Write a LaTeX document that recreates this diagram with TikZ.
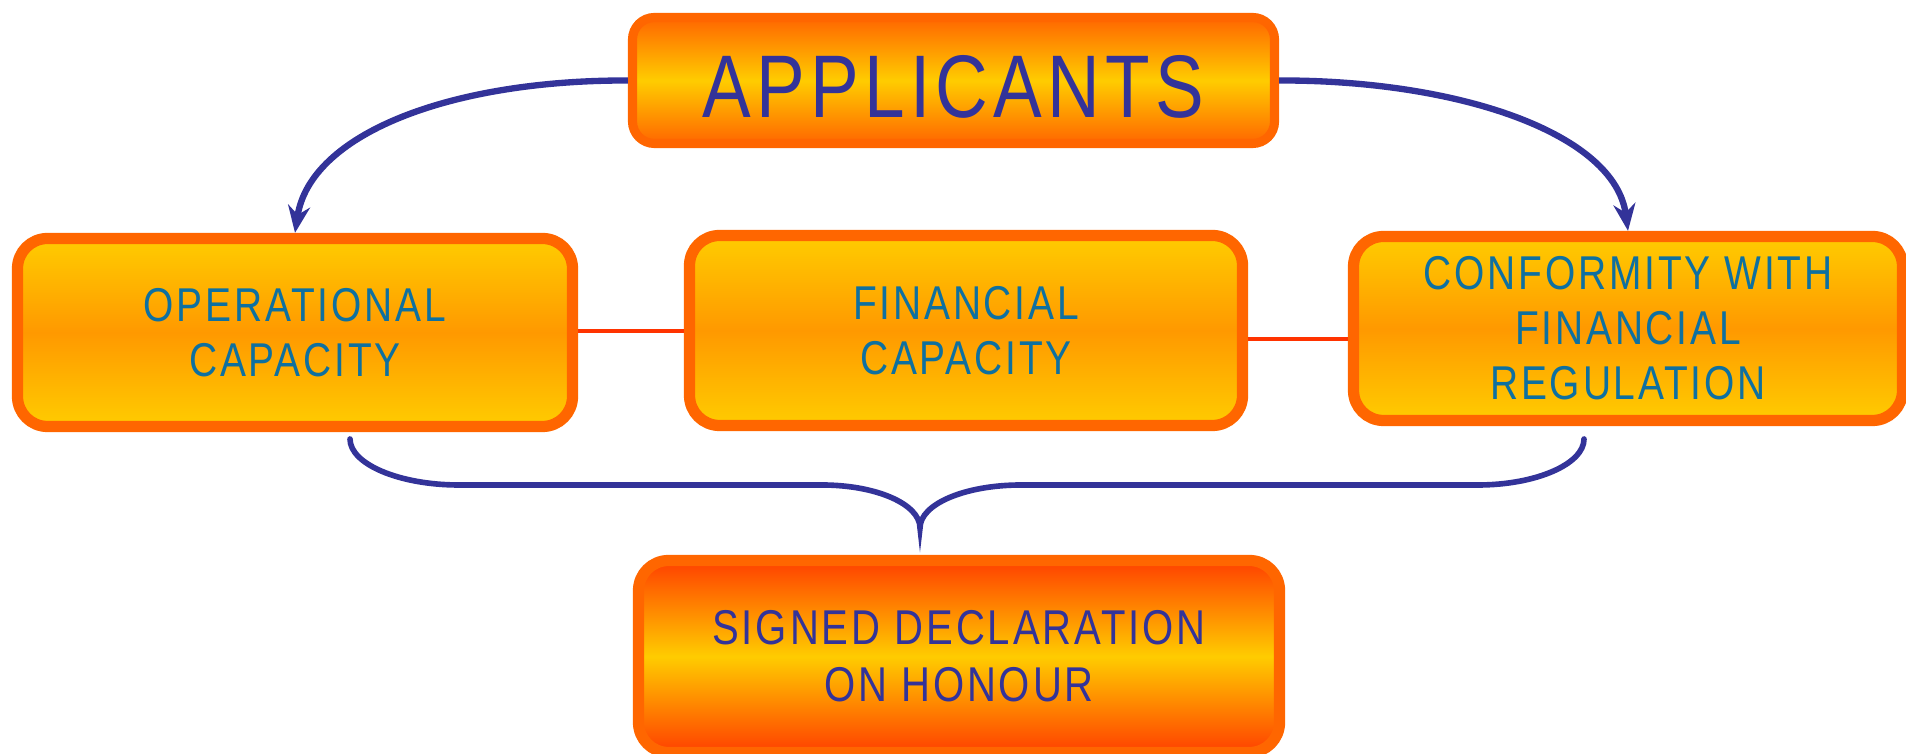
\documentclass[tikz,border=0pt]{standalone}
\usepackage{fontspec}
\newfontfamily\narrowsf{Liberation Sans}[FakeStretch=0.82,LetterSpace=6]
\usetikzlibrary{arrows.meta}
\definecolor{boxorange}{HTML}{FF6600}
\definecolor{boxyellow}{HTML}{FFCC00}
\definecolor{boxmid}{HTML}{FF9900}
\definecolor{boxred}{HTML}{FF4000}
\definecolor{linkred}{HTML}{FF3300}
\definecolor{darkblue}{HTML}{333399}
\definecolor{tealblue}{HTML}{0E70A0}

\begin{document}
\begin{tikzpicture}[
	topbox/.style={draw=boxorange, line width=2.6pt, rounded corners=0.22cm, top color=boxorange, bottom color=boxorange, middle color=boxyellow, align=center, inner sep=0pt, text=darkblue, text height=0.75cm, font=\narrowsf\fontsize{25.3}{29}\selectfont},
	critbox/.style={draw=boxorange, line width=3.2pt, rounded corners=0.3cm, top color=boxyellow, bottom color=boxyellow, middle color=boxmid, align=center, inner sep=0pt, text=tealblue, font=\narrowsf\fontsize{13.5}{15.6}\selectfont},
	signbox/.style={draw=boxorange, line width=3.2pt, rounded corners=0.3cm, top color=boxred, bottom color=boxred, middle color=boxyellow, align=center, inner sep=0pt, text=darkblue, font=\narrowsf\fontsize{13.9}{16.2}\selectfont},
	link/.style={draw=linkred, line width=1.4pt},
	flow/.style={draw=darkblue, line width=1.8pt, -{Stealth[length=2.7mm,width=2.2mm]}},
	brace/.style={draw=darkblue, line width=1.6pt, line cap=round}
]
	%\draw[help lines] (0,0) grid (19,7.5);
	\useasboundingbox (0,0) rectangle (19.06,7.54);
	\node[topbox, minimum width=6.42cm, minimum height=1.26cm] (app) at (9.535,6.735) {APPLICANTS};
	\node[critbox, minimum width=5.55cm, minimum height=1.88cm] (opcap) at (2.95,4.215) {OPERATIONAL\\CAPACITY};
	\node[critbox, minimum width=5.53cm, minimum height=1.90cm] (fincap) at (9.66,4.235) {FINANCIAL\\CAPACITY};
	\node[critbox, minimum width=5.49cm, minimum height=1.84cm] (conform) at (16.28,4.255) {CONFORMITY WITH\\FINANCIAL\\REGULATION};
	\node[signbox, minimum width=6.41cm, minimum height=1.92cm] (signed) at (9.59,0.975) {SIGNED DECLARATION\\ON HONOUR};
	% links between the criteria
	\draw[link] (opcap.east |- 0,4.23) -- (fincap.west |- 0,4.23);
	\draw[link] (fincap.east |- 0,4.15) -- (conform.west |- 0,4.15);
	% applicants to criteria
	\draw[flow] (app.west) .. controls (4.5,6.74) and (3.1,6.2) .. (opcap.north);
	\draw[flow] (app.east) .. controls (14.6,6.74) and (16.15,6.2) .. (conform.north);
	% brace over the declaration
	\coordinate (tip) at (9.20,2.26);
	\draw[brace] (3.50,3.15) .. controls (3.50,2.90) and (3.99,2.69) .. (4.59,2.69) -- (8.22,2.69)
		.. controls (8.76,2.69) and (9.20,2.50) .. (tip)
		.. controls (9.20,2.50) and (9.65,2.69) .. (10.21,2.69) -- (14.78,2.69)
		.. controls (15.36,2.69) and (15.84,2.90) .. (15.84,3.15);
\end{tikzpicture}
\end{document}
